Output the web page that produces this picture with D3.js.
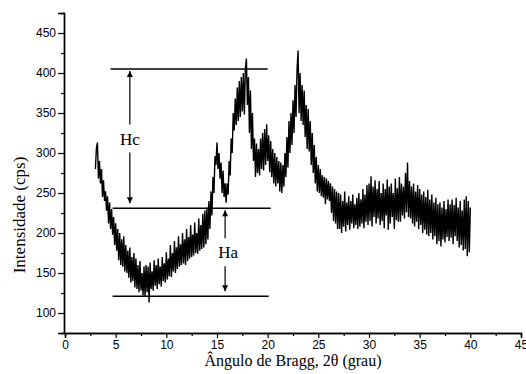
<!DOCTYPE html>
<html>
<head>
<meta charset="utf-8">
<script src="https://cdn.jsdelivr.net/npm/d3@7"></script>
<style>
  body { margin: 0; background: #fff; }
  svg { display: block; }
</style>
</head>
<body>
<script>
// 2theta start / step of the scan, and the intensities (cps)
const twoThetaStart = 3.0;
const twoThetaStep = 0.1;
const intensity = [
  280, 306, 313, 268, 290, 262, 280, 245, 266, 240,   // 3
  252, 228, 246, 212, 238, 205, 230, 198, 220, 185,   // 4
  212, 178, 205, 166, 200, 160, 192, 158, 196, 152,   // 5
  185, 150, 178, 144, 182, 138, 170, 140, 175, 132,   // 6
  168, 130, 160, 126, 165, 128, 150, 122, 158, 121,   // 7
  160, 126, 158, 113, 163, 130, 152, 128, 166, 134,   // 8
  160, 130, 168, 136, 158, 133, 170, 140, 162, 138,   // 9
  176, 142, 168, 146, 185, 145, 175, 152, 190, 150,   // 10
  182, 155, 196, 158, 186, 160, 200, 162, 192, 160,   // 11
  205, 165, 195, 168, 210, 170, 198, 172, 213, 175,   // 12
  200, 174, 218, 178, 210, 180, 224, 182, 228, 186,   // 13
  232, 192, 240, 205, 252, 222, 270, 250, 296, 285,   // 14
  313, 280, 300, 268, 288, 250, 278, 245, 262, 238,   // 15
  262, 248, 290, 272, 318, 300, 350, 328, 368, 335,   // 16
  382, 340, 390, 345, 395, 352, 400, 348, 405, 418,   // 17
  360, 395, 325, 378, 305, 350, 290, 318, 270, 312,   // 18
  275, 305, 272, 318, 280, 325, 278, 330, 285, 336,   // 19
  290, 322, 276, 315, 270, 305, 262, 300, 258, 295,   // 20
  262, 290, 252, 288, 250, 285, 258, 300, 270, 320,   // 21
  282, 340, 300, 350, 310, 366, 325, 385, 345, 405,   // 22
  428, 350, 400, 340, 385, 335, 378, 320, 360, 305,   // 23
  355, 302, 340, 285, 325, 275, 310, 262, 295, 252,   // 24
  285, 250, 280, 246, 272, 244, 270, 236, 268, 242,   // 25
  265, 240, 262, 225, 258, 215, 255, 212, 252, 205,   // 26
  250, 205, 248, 200, 240, 208, 252, 202, 238, 210,   // 27
  246, 204, 240, 212, 248, 206, 236, 210, 244, 205,   // 28
  250, 208, 242, 212, 255, 206, 248, 214, 260, 210,   // 29
  262, 215, 271, 208, 258, 220, 266, 212, 255, 218,   // 30
  265, 210, 250, 215, 262, 206, 255, 222, 267, 204,   // 31
  258, 212, 262, 220, 250, 205, 268, 216, 256, 214,   // 32
  270, 214, 262, 222, 258, 218, 275, 226, 288, 220,   // 33
  265, 218, 258, 212, 262, 208, 252, 214, 260, 205,   // 34
  255, 210, 248, 200, 252, 204, 245, 198, 254, 196,   // 35
  242, 200, 248, 192, 238, 196, 244, 186, 236, 190,   // 36
  238, 183, 232, 192, 240, 188, 230, 195, 242, 190,   // 37
  236, 194, 242, 186, 235, 196, 244, 190, 232, 182,   // 38
  240, 185, 228, 178, 242, 180, 246, 171, 240, 176,   // 39
  232                                                 // 40
];

// reference levels drawn across the pattern (intensity, 2theta from, 2theta to)
const levelValues = [405, 231, 121];
const levelFrom = [4.5, 4.7, 4.7];
const levelTo = [20.0, 20.3, 20.1];

// height arrows: label, 2theta, and the intensity the arrows run between
const heightLabels = ['Hc', 'Ha'];
const heightAt = [6.4, 15.8];
const heightTop = [405, 231];
const heightBottom = [231, 121];

const xTicks = [0, 5, 10, 15, 20, 25, 30, 35, 40, 45];
const yTicks = [100, 150, 200, 250, 300, 350, 400, 450];

const data = intensity.map((v, i) => ({ x: twoThetaStart + i * twoThetaStep, y: v }));

const width = 526, height = 374;
const serif = '"Liberation Serif", "Times New Roman", serif';
const sans = '"Liberation Sans", Arial, sans-serif';

const svg = d3.select('body')
  .append('svg')
  .attr('width', width)
  .attr('height', height);

const xScale = d3.scaleLinear().domain([0, 45]).range([65, 521]);
const yScale = d3.scaleLinear().domain([75, 475]).range([333, 13]);

// arrow head
svg.append('defs')
  .append('marker')
  .attr('id', 'head')
  .attr('viewBox', '0 0 10 10')
  .attr('refX', 10)
  .attr('refY', 5)
  .attr('markerUnits', 'userSpaceOnUse')
  .attr('markerWidth', 9)
  .attr('markerHeight', 6)
  .attr('orient', 'auto')
  .append('path')
  .attr('d', 'M0,0 L10,5 L0,10 Z')
  .attr('fill', '#000');

// x axis
const xAxis = svg.append('g')
  .attr('transform', `translate(0, ${yScale(75)})`)
  .call(d3.axisBottom(xScale).tickValues(xTicks).tickSize(5).tickPadding(2).tickFormat(d3.format('d')));
xAxis.append('g')
  .call(d3.axisBottom(xScale).tickValues(d3.range(2.5, 45, 5)).tickSize(3).tickFormat(''));

// y axis
const yAxis = svg.append('g')
  .attr('transform', `translate(${xScale(0) - 1}, 0)`)
  .call(d3.axisLeft(yScale).tickValues(yTicks).tickSize(6).tickPadding(2).tickFormat(d3.format('d')));
yAxis.append('g')
  .call(d3.axisLeft(yScale).tickValues(d3.range(125, 475, 50)).tickSize(3).tickFormat(''));

svg.selectAll('.domain').attr('stroke-width', 1.4);
svg.selectAll('.tick line').attr('stroke-width', 1.2);
svg.selectAll('.tick text')
  .attr('font-family', sans)
  .attr('font-size', 12)
  .attr('fill', '#000');

// pattern
svg.append('path')
  .datum(data)
  .attr('fill', 'none')
  .attr('stroke', '#000')
  .attr('stroke-width', 1.4)
  .attr('d', d3.line().x(d => xScale(d.x)).y(d => yScale(d.y)));

// reference levels
svg.append('g')
  .selectAll('line')
  .data(levelValues)
  .join('line')
  .attr('x1', (d, i) => xScale(levelFrom[i]))
  .attr('x2', (d, i) => xScale(levelTo[i]))
  .attr('y1', d => yScale(d))
  .attr('y2', d => yScale(d))
  .attr('stroke', '#000')
  .attr('stroke-width', 1.5);

// Hc / Ha arrows with labels
heightLabels.forEach((label, i) => {
  const x = xScale(heightAt[i]);
  const yTop = yScale(heightTop[i]);
  const yBot = yScale(heightBottom[i]);
  const mid = (yTop + yBot) / 2;
  const g = svg.append('g');
  g.append('line')
    .attr('x1', x).attr('x2', x)
    .attr('y1', mid - 14).attr('y2', yTop + 2)
    .attr('stroke', '#000').attr('stroke-width', 1.2)
    .attr('marker-end', 'url(#head)');
  g.append('line')
    .attr('x1', x).attr('x2', x)
    .attr('y1', mid + 14).attr('y2', yBot - 5)
    .attr('stroke', '#000').attr('stroke-width', 1.2)
    .attr('marker-end', 'url(#head)');
  g.append('text')
    .attr('x', x + (i === 0 ? 0 : 3))
    .attr('y', mid + 6)
    .attr('text-anchor', 'middle')
    .attr('font-family', serif)
    .attr('font-size', 17)
    .text(label);
});

// axis titles
svg.append('text')
  .attr('x', (xScale(0) + xScale(45)) / 2)
  .attr('y', 366)
  .attr('text-anchor', 'middle')
  .attr('font-family', serif)
  .attr('font-size', 16)
  .text('Ângulo de Bragg, 2θ (grau)');

svg.append('text')
  .attr('transform', 'translate(25, 215) rotate(-90)')
  .attr('text-anchor', 'middle')
  .attr('font-family', serif)
  .attr('font-size', 17)
  .text('Intensidade (cps)');
</script>
</body>
</html>
